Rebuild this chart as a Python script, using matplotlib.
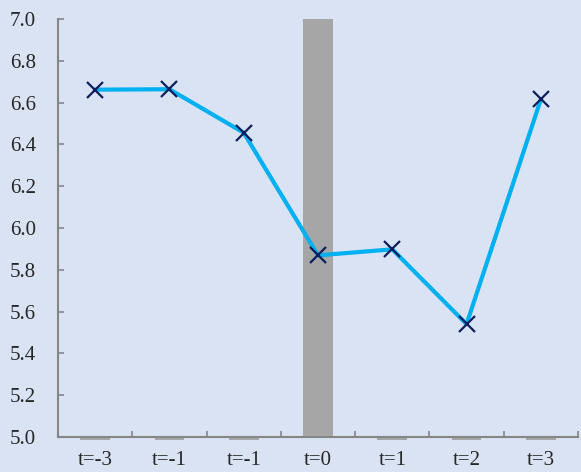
import numpy as np
import matplotlib
matplotlib.use('Agg')
import matplotlib.pyplot as plt

plt.rcParams['font.family'] = ['Liberation Serif', 'DejaVu Serif']

# chart data
categories = ['t=-3', 't=-1', 't=-1', 't=0', 't=1', 't=2', 't=3']
line_values = [6.662, 6.664, 6.456, 5.869, 5.898, 5.540, 6.615]
bar_values = [0, 0, 0, 7.0, 0, 0, 0]

Y_MIN, Y_MAX = 5.0, 7.0
BG = '#DAE3F3'
AXIS_COLOR = '#868686'

fig = plt.figure(figsize=(5.81, 4.72), dpi=100, facecolor=BG)
ax = fig.add_axes([0.0998, 0.0742, 0.895, 0.8855], facecolor=BG)

x = np.arange(len(categories))

# shaded event bar (values below the axis minimum show as a thin stub under the axis)
for xi, v in zip(x, bar_values):
	if v > Y_MIN:
		ax.bar(xi, v - Y_MIN, bottom=Y_MIN, width=0.4, color='#A6A6A6', zorder=1)
	else:
		ax.bar(xi, -0.012, bottom=Y_MIN - 0.002, width=0.4, color='#A6A6A6',
			   clip_on=False, zorder=1)

ax.plot(x, line_values, color='#00B0F0', linewidth=3, zorder=2)
ax.plot(x, line_values, linestyle='none', marker='x', markersize=11,
		markeredgewidth=1.6, color='#0C1F5C', zorder=3)

ax.set_xlim(-0.5, len(categories) - 0.5)
ax.set_ylim(Y_MIN, Y_MAX)
ax.set_yticks(np.arange(5.0, 7.01, 0.2))
ax.set_yticklabels([f'{v:.1f}' for v in np.arange(5.0, 7.01, 0.2)])

# category labels centered, tick marks on boundaries
ax.set_xticks(x)
ax.set_xticklabels(categories)
ax.set_xticks(np.arange(-0.5, len(categories)), minor=True)
ax.tick_params(axis='x', which='major', length=0, pad=10, labelsize=15, labelcolor='#262626')
ax.tick_params(axis='x', which='minor', direction='in', length=4, width=1.2, color=AXIS_COLOR)
ax.tick_params(axis='y', direction='in', length=4, width=1.2, color=AXIS_COLOR,
			   pad=16, labelsize=15, labelcolor='#262626')

for side in ['top', 'right']:
	ax.spines[side].set_visible(False)
for side in ['left', 'bottom']:
	ax.spines[side].set_color(AXIS_COLOR)
	ax.spines[side].set_linewidth(1.5)

fig.savefig('out.png', dpi=100, facecolor=BG)
